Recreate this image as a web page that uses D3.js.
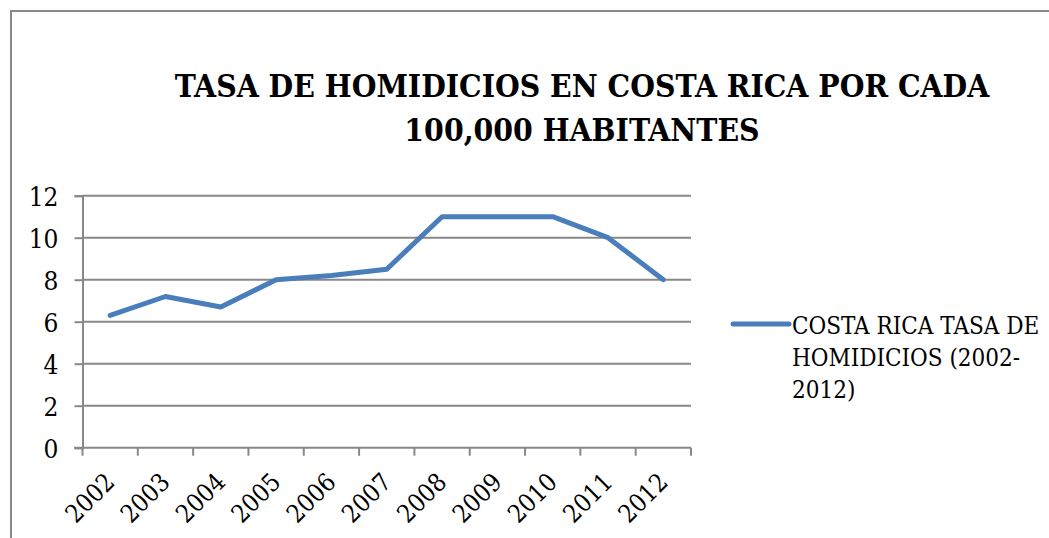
<!DOCTYPE html>
<html>
<head>
<meta charset="utf-8">
<script src="https://cdn.jsdelivr.net/npm/d3@7"></script>
<style>
  body { margin: 0; background: #fff; }
  svg text { font-family: "DejaVu Serif Condensed", "DejaVu Serif", serif; font-stretch: condensed; fill: #000; }
</style>
</head>
<body>
<svg id="chart" width="1049" height="538"></svg>
<script>
// chart data
var years = ['2002', '2003', '2004', '2005', '2006', '2007', '2008', '2009', '2010', '2011', '2012'];
var rates = [6.3, 7.2, 6.7, 8.0, 8.2, 8.5, 11, 11, 11, 10, 8.0];
var yTicks = [0, 2, 4, 6, 8, 10, 12];
var titleLines = ['TASA DE HOMIDICIOS EN COSTA RICA POR CADA', '100,000 HABITANTES'];
var legendLines = ['COSTA RICA TASA DE', 'HOMIDICIOS (2002-', '2012)'];

var svg = d3.select('#chart');
var grey = '#888888';
var blue = '#4a7ebb';
var serif = '"DejaVu Serif Condensed", "DejaVu Serif", serif';

// outer frame (runs off right and bottom edges)
svg.append('path')
  .attr('d', 'M11,545 L11,11 L1060,11')
  .attr('fill', 'none')
  .attr('stroke', grey)
  .attr('stroke-width', 2);

// title - shrink font until the first line fits the reference width
var titles = svg.append('g').selectAll('text')
  .data(titleLines)
  .join('text')
  .attr('x', 582)
  .attr('y', function(d, i) { return 97 + i * 44; })
  .attr('text-anchor', 'middle')
  .attr('font-family', '"Liberation Serif", serif')
  .attr('font-size', 36)
  .attr('font-weight', 'bold')
  .text(function(d) { return d; });
var w0 = titles.nodes()[0].getComputedTextLength();
if (w0 > 815) titles.attr('font-size', 36 * 815 / w0);

var x = d3.scaleBand().domain(years).range([82.5, 691]);
var y = d3.scaleLinear().domain([0, 12]).range([447.7, 195.7]);

// y axis ticks and labels
var yAxis = d3.axisLeft(y).tickValues(yTicks).tickSize(8).tickPadding(16);
var gy = svg.append('g').attr('transform', 'translate(82.5,0)').call(yAxis);
gy.select('.domain').attr('stroke', grey).attr('stroke-width', 2);
gy.selectAll('line').attr('stroke', grey).attr('stroke-width', 2);
gy.selectAll('text')
  .attr('font-size', 26)
  .attr('font-family', serif)
  .attr('dy', '0.36em');

// horizontal gridlines
svg.append('g').selectAll('line')
  .data(yTicks.slice(1))
  .join('line')
  .attr('x1', 82.5).attr('x2', 691)
  .attr('y1', function(d) { return y(d); })
  .attr('y2', function(d) { return y(d); })
  .attr('stroke', grey)
  .attr('stroke-width', 2);

// x axis with ticks on band edges
var gx = svg.append('g').attr('transform', 'translate(0,' + y(0) + ')');
gx.append('line')
  .attr('x1', 74).attr('x2', 691)
  .attr('stroke', grey).attr('stroke-width', 2);
var edges = years.map(function(d) { return x(d); }).concat([x.range()[1]]);
gx.selectAll('line.tick')
  .data(edges)
  .join('line')
  .attr('class', 'tick')
  .attr('x1', function(d) { return d; }).attr('x2', function(d) { return d; })
  .attr('y1', 0).attr('y2', 8)
  .attr('stroke', grey).attr('stroke-width', 2);
gx.selectAll('text')
  .data(years)
  .join('text')
  .attr('transform', function(d) {
    return 'translate(' + (x(d) + x.bandwidth() / 2 + 6) + ',36) rotate(-45)';
  })
  .attr('text-anchor', 'end')
  .attr('font-size', 25)
  .text(function(d) { return d; });

// series line
var line = d3.line()
  .x(function(d, i) { return x(years[i]) + x.bandwidth() / 2; })
  .y(function(d) { return y(d); });
svg.append('path')
  .datum(rates)
  .attr('d', line)
  .attr('fill', 'none')
  .attr('stroke', blue)
  .attr('stroke-width', 5)
  .attr('stroke-linejoin', 'round')
  .attr('stroke-linecap', 'round');

// legend
var lg = svg.append('g').attr('transform', 'translate(733,324)');
lg.append('line')
  .attr('x1', 0).attr('x2', 56)
  .attr('stroke', blue).attr('stroke-width', 5).attr('stroke-linecap', 'round');
lg.selectAll('text')
  .data(legendLines)
  .join('text')
  .attr('x', 59)
  .attr('y', function(d, i) { return 10 + i * 32; })
  .attr('font-size', 24)
  .text(function(d) { return d; });
</script>
</body>
</html>
